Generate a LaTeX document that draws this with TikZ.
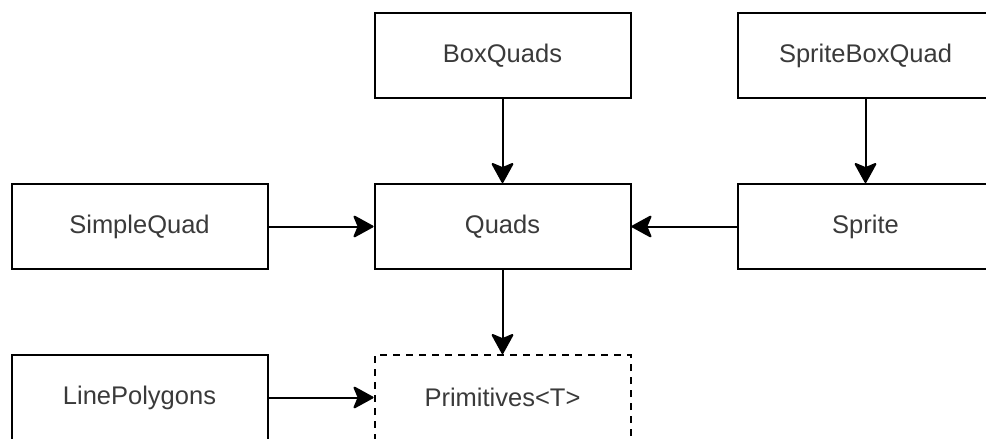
\documentclass[tikz,border=0pt]{standalone}
\usepackage{fontspec}
\setmainfont{Liberation Sans}
\usetikzlibrary{arrows.meta}
\definecolor{labelgray}{HTML}{3A3A3A}
\begin{document}
\begin{tikzpicture}[x=1pt,y=-1pt,
  box/.style={draw=black,line width=2pt,minimum width=256pt,minimum height=85pt,
    inner sep=0pt,outer sep=1pt,text=labelgray,font=\fontsize{25.5}{30}\selectfont},
  abstractbox/.style={box,dash pattern=on 7pt off 6pt},
  link/.style={line width=2pt,-{Stealth[length=22pt,width=24pt,inset=5pt,round]}}]
\useasboundingbox (0,0) rectangle (986,439);
\clip (0,0) rectangle (986,439);
% top row
\node[box] (boxquads) at (502.5,55.5) {BoxQuads};
\node[box] (spriteboxquad) at (865.5,55.5) {SpriteBoxQuad};
% middle row
\node[box] (simplequad) at (139.5,226.5) {SimpleQuad};
\node[box] (quads) at (502.5,226.5) {Quads};
\node[box] (sprite) at (865.5,226.5) {Sprite};
% bottom row
\node[box] (linepolygons) at (139.5,397.5) {LinePolygons};
\node[abstractbox] (primitives) at (502.5,397.5) {Primitives<T>};
% inheritance links
\draw[link] (boxquads) -- (quads);
\draw[link] (spriteboxquad) -- (sprite);
\draw[link] (simplequad) -- (quads);
\draw[link] (sprite) -- (quads);
\draw[link] (quads) -- (primitives);
\draw[link] (linepolygons) -- (primitives);
\end{tikzpicture}
\end{document}
